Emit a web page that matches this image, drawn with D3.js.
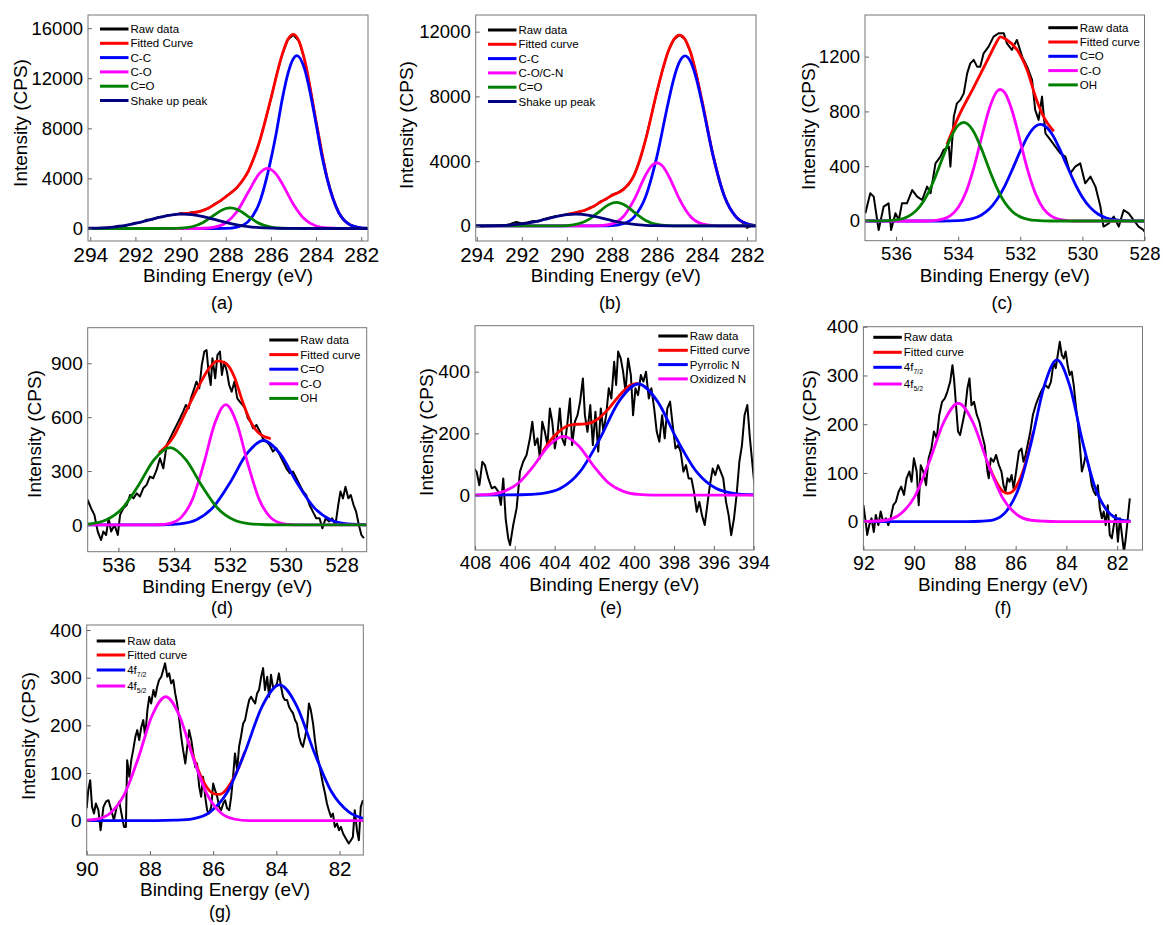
<!DOCTYPE html>
<html>
<head>
<meta charset="utf-8">
<script src="https://cdn.jsdelivr.net/npm/d3@7"></script>
<style>
body { margin: 0; background: #fff; }
svg { font-family: "Liberation Sans", Arial, Helvetica, sans-serif; }
</style>
</head>
<body>
<svg width="1163" height="925"></svg>
<script>
// ---- (a) C 1s ----
var aXTicks = [294, 292, 290, 288, 286, 284, 282];
var aYTicks = [0, 4000, 8000, 12000, 16000];
var aNames = ["Raw data", "Fitted Curve", "C-C", "C-O", "C=O", "Shake up peak"];
var aRaw = [[294,40],[293.75,-20],[293.5,10],[293.25,60],[293,90],[292.75,220],[292.5,180],[292.25,330],[292,460],[291.75,480],[291.5,700],[291.25,720],[291,900],[290.75,960],[290.5,1080],[290.25,1100],[290,1210],[289.75,1180],[289.5,1290],[289.25,1300],[289,1480],[288.75,1620],[288.5,1960],[288.25,2180],[288,2560],[287.75,2900],[287.5,3240],[287.25,3850],[287,4560],[286.75,5650],[286.5,6950],[286.25,8600],[286,10350],[285.75,12250],[285.5,13850],[285.25,15100],[285,15450],[284.75,14950],[284.5,13400],[284.25,11150],[284,8550],[283.75,6050],[283.5,3950],[283.25,2380],[283,1270],[282.75,660],[282.5,290],[282.25,150],[282,30],[281.75,60]];
var aFit = [[290,1174],[289.5,1245],[289,1445],[288.5,1908],[288,2530],[287.5,3281],[287,4582],[286.5,6969],[286,10378],[285.5,13905],[285.25,15092],[285,15499],[284.75,14937],[284.5,13412],[284,8558],[283.5,3942],[283,1288],[282.5,301],[282,50]];
var aCC = [[294.1,0],[288.5,0],[288,5],[287.5,106],[287,566],[286.5,2098],[286,5520],[285.75,7753],[285.5,10295],[285.25,12351],[285,13579],[284.85,13800],[284.5,12682],[284.25,10750],[284,8363],[283.75,5877],[283.5,3905],[283,1283],[282.5,301],[282,50],[281.7,0]];
var aCO = [[294.1,0],[289.5,0],[289,17],[288.5,105],[288,447],[287.5,1358],[287,2909],[286.5,4411],[286.15,4800],[285.75,4296],[285.5,3581],[285,1920],[284.5,730],[284,195],[283.5,37],[283,5],[282.5,0],[281.7,0]];
var aCdO = [[294.1,0],[291,0],[290.5,3],[290,26],[289.5,139],[289,481],[288.5,1084],[288.25,1388],[288,1594],[287.8,1650],[287.5,1528],[287.25,1274],[287,954],[286.5,388],[286,103],[285.5,18],[285,1],[284.5,0],[281.7,0]];
var aShake = [[294.1,15],[294,20],[293.5,51],[293,115],[292.5,227],[292,399],[291.5,622],[291,860],[290.5,1055],[290,1148],[289.9,1150],[289.5,1106],[289,947],[288.5,719],[288,484],[287.5,289],[287,153],[286.5,72],[286,30],[285.5,11],[285,3],[284.5,0],[281.7,0]];

// ---- (b) C 1s ----
var bXTicks = [294, 292, 290, 288, 286, 284, 282];
var bYTicks = [0, 4000, 8000, 12000];
var bNames = ["Raw data", "Fitted curve", "C-C", "C-O/C-N", "C=O", "Shake up peak"];
var bRaw = [[294,20],[293.75,-30],[293.5,40],[293.25,-10],[293,60],[292.75,30],[292.5,120],[292.25,250],[292,160],[291.75,210],[291.5,300],[291.25,280],[291,430],[290.75,520],[290.5,600],[290.25,640],[290,730],[289.75,760],[289.5,880],[289.25,930],[289,1120],[288.75,1230],[288.5,1520],[288.25,1650],[288,1930],[287.75,2050],[287.5,2280],[287.25,2560],[287,3200],[286.75,4080],[286.5,5350],[286.25,6800],[286,8280],[285.75,9650],[285.5,10790],[285.25,11500],[285,11800],[284.75,11530],[284.5,10700],[284.25,9400],[284,7730],[283.75,5980],[283.5,4300],[283.25,2880],[283,1830],[282.75,1050],[282.5,600],[282.25,280],[282,-120],[281.75,40],[281.6,20]];
var bFit = [[290,718],[289.5,850],[289,1076],[288.5,1474],[288,1885],[287.5,2238],[287,3166],[286.5,5343],[286,8300],[285.5,10780],[285.25,11519],[285,11792],[284.75,11522],[284.5,10702],[284,7740],[283.5,4313],[283,1817],[282.5,578],[282,138],[281.6,25]];
var bCC = [[294.05,0],[288.5,0],[288,25],[287.5,138],[287,578],[286.5,1817],[286,4295],[285.5,7613],[285.25,9104],[285,10133],[284.75,10500],[284.5,10133],[284.25,9104],[284,7613],[283.5,4295],[283,1817],[282.5,578],[282,138],[281.6,20]];
var bCO = [[294.05,0],[289,0],[288.5,18],[288,127],[287.5,569],[287,1658],[286.5,3147],[286.25,3697],[286,3900],[285.75,3697],[285.5,3147],[285.25,2410],[285,1658],[284.5,569],[284,127],[283.5,18],[283,0],[281.6,0]];
var bCdO = [[294.05,0],[291,0],[290.5,3],[290,23],[289.5,122],[289,423],[288.5,953],[288.25,1220],[288,1401],[287.8,1450],[287.5,1343],[287.25,1120],[287,839],[286.5,341],[286,91],[285.5,16],[285,1],[284.5,0],[281.6,0]];
var bShake = [[294.05,2],[293.5,7],[293,21],[292.5,55],[292,124],[291.5,240],[291,399],[290.5,569],[290,695],[289.6,730],[289,653],[288.5,503],[288,332],[287.5,188],[287,91],[286.5,38],[286,14],[285.5,4],[285,0],[281.6,0]];

// ---- (c) O 1s ----
var cXTicks = [536, 534, 532, 530, 528];
var cYTicks = [0, 400, 800, 1200];
var cNames = ["Raw data", "Fitted curve", "C=O", "C-O", "OH"];
var cRaw = [[536.99,56],[536.83,202],[536.72,178],[536.56,-66],[536.4,105],[536.24,129],[536.16,-66],[536.02,56],[535.91,7],[535.81,129],[535.65,129],[535.48,226],[535.32,178],[535.16,153],[535,251],[534.89,202],[534.73,421],[534.57,470],[534.47,519],[534.3,543],[534.25,397],[534.14,762],[534.04,859],[533.93,884],[533.82,932],[533.71,1078],[533.61,1151],[533.5,1176],[533.39,1127],[533.29,1127],[533.18,1224],[533.02,1273],[532.86,1346],[532.7,1370],[532.53,1370],[532.43,1297],[532.27,1249],[532.11,1322],[531.94,1200],[531.78,1127],[531.62,1030],[531.52,811],[531.41,738],[531.3,908],[531.19,640],[531.03,592],[530.87,543],[530.71,494],[530.55,470],[530.39,348],[530.23,397],[530.07,421],[529.91,275],[529.74,324],[529.58,251],[529.42,105],[529.32,-41],[529.15,-17],[528.99,32],[528.83,-41],[528.67,80],[528.51,56],[528.35,7],[528.19,-41],[528.03,-66],[528,-78]];
var cFit = [[534.36,560],[534,757],[533.5,976],[533,1200],[532.8,1290],[532.64,1345],[532.45,1325],[532.1,1249],[531.78,1103],[531.5,900],[531.25,762],[530.92,655]];
var cCdO = [[537,0],[534.5,0],[534,3],[533.75,8],[533.5,20],[533.25,44],[533,87],[532.75,157],[532.5,255],[532.25,379],[532,510],[531.75,623],[531.5,693],[531.35,705],[531.25,700],[531,642],[530.75,535],[530.5,405],[530.25,279],[530,174],[529.75,99],[529.5,51],[529.25,24],[529,10],[528.75,4],[528.5,1],[528,0]];
var cCO = [[537,0],[535,0],[534.75,4],[534.5,13],[534.25,39],[534,98],[533.75,210],[533.5,386],[533.25,607],[533,818],[532.75,946],[532.64,960],[532.5,937],[532.25,796],[532,580],[531.75,362],[531.5,194],[531.25,88],[531,35],[530.75,12],[530.5,3],[530.25,0],[528,0]];
var cOH = [[537,0],[536.5,1],[536,8],[535.75,20],[535.5,48],[535.25,101],[535,189],[534.75,314],[534.5,462],[534.25,603],[534,698],[533.82,720],[533.75,715],[533.5,652],[533.25,527],[533,377],[532.75,240],[532.5,135],[532.25,68],[532,30],[531.75,12],[531.5,4],[531,0],[528,0]];

// ---- (d) O 1s ----
var dXTicks = [536, 534, 532, 530, 528];
var dYTicks = [0, 300, 600, 900];
var dNames = ["Raw data", "Fitted curve", "C=O", "C-O", "OH"];
var dRaw = [[537.18,37],[537.1,139],[536.98,93],[536.86,56],[536.74,-37],[536.62,-84],[536.54,-37],[536.44,-56],[536.35,37],[536.26,-37],[536.14,0],[536.02,-56],[535.94,56],[535.82,93],[535.7,111],[535.58,167],[535.46,148],[535.34,176],[535.23,158],[535.11,204],[534.99,223],[534.87,269],[534.75,260],[534.63,306],[534.51,371],[534.39,315],[534.27,445],[534.15,482],[534.03,520],[533.91,557],[533.79,594],[533.68,631],[533.58,668],[533.48,649],[533.4,705],[533.28,761],[533.2,798],[533.1,761],[533.01,891],[532.92,965],[532.84,974],[532.77,854],[532.69,779],[532.63,928],[532.53,816],[532.45,946],[532.36,965],[532.29,835],[532.21,909],[532.11,854],[532.03,779],[531.94,742],[531.84,798],[531.74,705],[531.65,687],[531.55,668],[531.46,649],[531.36,594],[531.27,575],[531.17,538],[531.05,557],[530.93,520],[530.82,482],[530.7,464],[530.58,445],[530.46,408],[530.34,427],[530.22,390],[530.1,353],[529.98,315],[529.86,288],[529.74,297],[529.62,260],[529.5,223],[529.38,186],[529.27,167],[529.15,111],[529.03,74],[528.91,37],[528.79,37],[528.69,-19],[528.57,37],[528.45,19],[528.34,37],[528.22,0],[528.12,111],[528.04,186],[527.95,148],[527.86,213],[527.76,148],[527.67,167],[527.57,111],[527.48,74],[527.38,0],[527.29,-56],[527.2,-74]];
var dFit = [[534.55,400],[534.06,482],[533.58,631],[533.1,779],[532.75,872],[532.45,913],[532.15,900],[531.85,826],[531.55,687],[531.26,575],[530.96,510],[530.54,480]];
var dCdO = [[537.1,0],[535,0],[534.4,1],[533.8,6],[533.2,29],[532.6,99],[532,235],[531.4,395],[530.8,470],[530.2,395],[529.6,235],[529,99],[528.4,29],[527.8,6],[527.2,1],[527.1,0]];
var dCO = [[537.1,0],[535,0],[534.55,1],[534.15,9],[533.75,42],[533.35,141],[532.95,335],[532.55,563],[532.15,670],[531.75,563],[531.35,335],[530.95,141],[530.55,42],[530.15,9],[529.75,1],[529.35,0],[527.1,0]];
var dOH = [[537.1,5],[537.025,6],[536.45,27],[535.875,90],[535.3,215],[534.725,362],[534.15,430],[533.575,362],[533,215],[532.425,90],[531.85,27],[531.275,6],[530.7,1],[530,0],[527.1,0]];

// ---- (e) N 1s ----
var eXTicks = [408, 406, 404, 402, 400, 398, 396, 394];
var eYTicks = [0, 200, 400];
var eNames = ["Raw data", "Fitted curve", "Pyrrolic N", "Oxidized N"];
var eRaw = [[408.05,86],[407.92,76],[407.78,32],[407.63,108],[407.5,97],[407.33,54],[407.16,22],[407,27],[406.83,11],[406.7,-32],[406.58,54],[406.46,-76],[406.33,-141],[406.24,-162],[406.08,-97],[405.91,-43],[405.74,76],[405.58,108],[405.41,130],[405.24,184],[405.12,238],[404.99,162],[404.86,184],[404.74,119],[404.62,238],[404.49,205],[404.36,162],[404.24,281],[404.12,238],[403.99,151],[403.85,205],[403.74,281],[403.62,184],[403.49,162],[403.35,238],[403.23,313],[403.12,162],[402.98,238],[402.85,259],[402.72,303],[402.58,378],[402.48,259],[402.35,205],[402.21,292],[402.08,162],[401.95,270],[401.81,141],[401.68,281],[401.55,205],[401.41,259],[401.28,346],[401.15,313],[401.01,432],[400.91,357],[400.81,465],[400.68,443],[400.56,400],[400.44,335],[400.31,443],[400.17,389],[400.06,259],[399.94,346],[399.81,324],[399.67,389],[399.54,368],[399.41,400],[399.27,313],[399.14,346],[399,281],[398.87,205],[398.74,173],[398.6,259],[398.47,184],[398.34,281],[398.2,303],[398.07,227],[397.93,151],[397.8,162],[397.67,141],[397.53,76],[397.4,97],[397.27,54],[397.13,54],[397,11],[396.86,-54],[396.73,-22],[396.6,-65],[396.46,-97],[396.33,-32],[396.2,32],[396.06,86],[395.93,65],[395.79,97],[395.66,76],[395.53,54],[395.39,-22],[395.26,-65],[395.13,-130],[394.99,-76],[394.86,0],[394.72,108],[394.59,162],[394.46,259],[394.32,292],[394.19,184],[394.06,97],[393.96,32]];
var eFit = [[404.6,140],[404.2,178],[403.8,205],[403.4,223],[403,229],[402.6,230],[402.2,234],[401.8,248],[401.4,272],[401,303],[400.6,333],[400.2,356],[399.8,362]];
var ePyr = [[408,0],[405.65,1],[404.675,5],[403.7,22],[402.725,76],[401.75,180],[400.775,303],[399.8,360],[398.825,303],[397.85,180],[396.875,76],[395.9,22],[394.925,5],[394,1]];
var eOxi = [[408,0],[407.3,2],[406.55,12],[405.8,40],[405.05,95],[404.3,160],[403.55,190],[402.8,160],[402.05,95],[401.3,40],[400.55,12],[399.8,2],[399.05,0],[394,0]];

// ---- (f) 4f ----
var fXTicks = [92, 90, 88, 86, 84, 82];
var fYTicks = [0, 100, 200, 300, 400];
var fNames = ["Raw data", "Fitted curve", "4f_7/2", "4f_5/2"];
var fRaw = [[92,34],[91.91,0],[91.85,-27],[91.77,-7],[91.68,7],[91.59,-21],[91.51,14],[91.41,-7],[91.32,21],[91.22,0],[91.11,7],[91.02,-7],[90.93,7],[90.82,34],[90.72,41],[90.61,62],[90.51,72],[90.4,55],[90.3,89],[90.19,103],[90.1,82],[90.01,130],[89.9,103],[89.82,34],[89.74,116],[89.64,103],[89.53,75],[89.43,130],[89.32,150],[89.22,185],[89.11,171],[89.01,219],[88.9,246],[88.79,253],[88.69,267],[88.58,287],[88.49,321],[88.43,294],[88.35,239],[88.27,185],[88.19,178],[88.11,198],[88,226],[87.9,274],[87.82,294],[87.74,239],[87.64,246],[87.53,219],[87.43,205],[87.32,178],[87.22,157],[87.11,103],[87.06,89],[86.98,130],[86.87,123],[86.77,137],[86.66,116],[86.56,103],[86.48,75],[86.4,62],[86.32,89],[86.24,82],[86.16,96],[86.08,68],[85.98,103],[85.87,144],[85.77,150],[85.69,123],[85.61,137],[85.53,157],[85.42,185],[85.32,219],[85.21,239],[85.11,253],[85,267],[84.92,274],[84.82,280],[84.71,274],[84.61,287],[84.5,328],[84.42,315],[84.34,342],[84.26,369],[84.18,342],[84.1,335],[84.03,349],[83.95,321],[83.87,301],[83.79,308],[83.71,280],[83.63,239],[83.55,205],[83.47,157],[83.39,103],[83.32,116],[83.24,137],[83.16,123],[83.08,103],[83,75],[82.92,62],[82.84,55],[82.76,75],[82.68,27],[82.6,7],[82.53,21],[82.45,-7],[82.37,34],[82.29,-27],[82.21,-34],[82.13,-7],[82.05,14],[81.97,-41],[81.89,7],[81.81,-27],[81.73,-62],[81.66,-34],[81.58,7],[81.5,48]];
var fFit = [[87.1,122],[86.9,96],[86.7,76],[86.5,62],[86.3,58],[86.1,63],[85.9,79],[85.7,105],[85.5,142],[85.3,185]];
var f72 = [[92,0],[87.9,0],[87.37,1],[86.87,4],[86.37,21],[85.87,70],[85.37,166],[84.87,279],[84.37,332],[83.87,279],[83.37,166],[82.87,70],[82.37,21],[81.87,4],[81.47,1]];
var f52 = [[92,0],[91.71,1],[91.135,3],[90.56,15],[89.985,51],[89.41,122],[88.835,204],[88.26,243],[87.685,204],[87.11,122],[86.535,51],[85.96,15],[85.385,3],[84.81,1],[84.2,0],[81.47,0]];

// ---- (g) 4f ----
var gXTicks = [90, 88, 86, 84, 82];
var gYTicks = [0, 100, 200, 300, 400];
var gNames = ["Raw data", "Fitted curve", "4f_7/2", "4f_5/2"];
var gRaw = [[90,26],[89.95,64],[89.89,85],[89.83,29],[89.77,15],[89.71,36],[89.63,22],[89.56,-20],[89.47,29],[89.39,40],[89.31,43],[89.22,22],[89.14,1],[89.05,29],[88.97,40],[88.88,8],[88.82,-13],[88.76,-13],[88.72,127],[88.65,92],[88.59,127],[88.53,148],[88.46,176],[88.4,190],[88.34,169],[88.27,197],[88.21,211],[88.15,176],[88.08,232],[88.02,260],[87.96,246],[87.89,274],[87.83,260],[87.77,281],[87.71,295],[87.64,302],[87.58,316],[87.52,330],[87.45,302],[87.39,309],[87.33,288],[87.26,295],[87.2,267],[87.14,246],[87.07,211],[87.01,176],[86.95,148],[86.88,120],[86.82,155],[86.76,190],[86.69,169],[86.63,141],[86.57,113],[86.51,120],[86.44,71],[86.38,50],[86.32,92],[86.25,50],[86.19,22],[86.13,15],[86.06,29],[86,78],[85.94,64],[85.87,50],[85.81,29],[85.75,22],[85.68,36],[85.62,43],[85.56,26],[85.49,22],[85.43,50],[85.37,92],[85.31,141],[85.24,106],[85.18,155],[85.12,176],[85.05,204],[84.99,211],[84.93,232],[84.86,253],[84.8,260],[84.74,253],[84.67,246],[84.61,267],[84.55,274],[84.48,302],[84.42,320],[84.36,274],[84.29,302],[84.23,260],[84.17,306],[84.11,281],[84.04,281],[83.98,288],[83.92,309],[83.85,281],[83.79,260],[83.73,253],[83.66,253],[83.6,239],[83.54,232],[83.47,225],[83.41,211],[83.35,204],[83.28,176],[83.22,162],[83.16,155],[83.09,176],[83.03,197],[82.97,246],[82.91,232],[82.84,204],[82.78,169],[82.72,141],[82.65,120],[82.59,99],[82.53,78],[82.46,57],[82.4,36],[82.34,22],[82.27,8],[82.21,15],[82.15,-13],[82.08,-6],[82.02,-20],[81.96,-13],[81.89,-27],[81.83,-34],[81.77,-41],[81.71,-48],[81.64,-41],[81.58,-34],[81.52,22],[81.45,-20],[81.39,-41],[81.33,29],[81.26,43]];
var gFit = [[86.8,169],[86.6,129],[86.4,95],[86.2,70],[86,57],[85.8,55],[85.6,64],[85.4,84],[85.2,110],[85,144]];
var g72 = [[90,0],[87.8,0],[87.2,1],[86.65,4],[86.1,18],[85.55,60],[85,143],[84.45,240],[83.9,285],[83.35,240],[82.8,143],[82.25,60],[81.7,18],[81.25,5]];
var g52 = [[90,1],[89.69,3],[89.25,16],[88.81,55],[88.375,130],[87.94,219],[87.5,260],[87.06,219],[86.625,130],[86.19,55],[85.75,16],[85.31,3],[84.875,0],[81.25,0]];

var BLACK = "#000000", RED = "#ff0000", BLUE = "#0000ff", PINK = "#ff00ff", GREEN = "#008000", NAVY = "#000080";

function rows(y0, step, n) {
    var r = [];
    for (var i = 0; i < n; i++) r.push(y0 + i * step);
    return r;
}

var panels = [
    { id: "a", left: 88, right: 368, top: 15, bottom: 241, xDom: [294.1, 281.7], yDom: [-1000, 17050],
      xTicks: aXTicks, yTicks: aYTicks, xFont: 21, yFont: 18.5, yTitle: [26.5, 123], label: [222, 309],
      names: aNames, data: [aRaw, aFit, aCC, aCO, aCdO, aShake], colors: [BLACK, RED, BLUE, PINK, GREEN, NAVY],
      legend: { x: 100, len: 28.5, rows: rows(29, 14.3, 6) } },
    { id: "b", left: 475.7, right: 756, top: 15, bottom: 241, xDom: [294.05, 281.6], yDom: [-930, 13030],
      xTicks: bXTicks, yTicks: bYTicks, xFont: 20.5, yFont: 18.5, yTitle: [413, 125], label: [610, 309],
      names: bNames, data: [bRaw, bFit, bCC, bCO, bCdO, bShake], colors: [BLACK, RED, BLUE, PINK, GREEN, NAVY],
      legend: { x: 488, len: 28.5, rows: rows(30, 14.3, 6) } },
    { id: "c", left: 865, right: 1144.5, top: 15, bottom: 240.7, xDom: [537, 528], yDom: [-144, 1504],
      xTicks: cXTicks, yTicks: cYTicks, xFont: 18.5, yFont: 18.5, yTitle: [815, 126], label: [1002, 309],
      names: cNames, data: [cRaw, cFit, cCdO, cCO, cOH], colors: [BLACK, RED, BLUE, PINK, GREEN],
      legend: { x: 1048.3, len: 29.5, rows: rows(27.7, 14.3, 5) } },
    { id: "d", left: 87.7, right: 366.7, top: 327.7, bottom: 551.7, xDom: [537.1, 527.1], yDom: [-149, 1098],
      xTicks: dXTicks, yTicks: dYTicks, xFont: 20, yFont: 19, yTitle: [40.5, 434], label: [222, 614],
      names: dNames, data: [dRaw, dFit, dCdO, dCO, dOH], colors: [BLACK, RED, BLUE, PINK, GREEN],
      legend: { x: 269.3, len: 29, rows: rows(340, 14.6, 5) } },
    { id: "e", left: 475, right: 753.7, top: 325.7, bottom: 550, xDom: [408, 394], yDom: [-178, 549],
      xTicks: eXTicks, yTicks: eYTicks, xFont: 19, yFont: 19, yTitle: [432.5, 432], label: [611, 614],
      names: eNames, data: [eRaw, eFit, ePyr, eOxi], colors: [BLACK, RED, BLUE, PINK],
      legend: { x: 658.3, len: 29.5, rows: rows(336, 14.3, 4) } },
    { id: "f", left: 863.4, right: 1142.5, top: 326.7, bottom: 550, xDom: [92, 81], yDom: [-58, 400],
      xTicks: fXTicks, yTicks: fYTicks, xFont: 19.5, yFont: 19, yTitle: [815.5, 434], label: [1003, 614],
      names: fNames, data: [fRaw, fFit, f72, f52], colors: [BLACK, RED, BLUE, PINK],
      legend: { x: 873.3, len: 28.5, rows: [337.3, 352.3, 367.3, 384] } },
    { id: "g", left: 86.7, right: 363.3, top: 625, bottom: 855, xDom: [90, 81.25], yDom: [-72, 410.5],
      xTicks: gXTicks, yTicks: gYTicks, xFont: 20.5, yFont: 19, yTitle: [34.5, 736], label: [220, 918],
      names: gNames, data: [gRaw, gFit, g72, g52], colors: [BLACK, RED, BLUE, PINK],
      legend: { x: 96.7, len: 28.5, rows: [641, 655, 670, 686] } }
];

var svg = d3.select("svg");

function drawPanel(p) {
    var x = d3.scaleLinear().domain(p.xDom).range([p.left, p.right]);
    var y = d3.scaleLinear().domain(p.yDom).range([p.bottom, p.top]);

    svg.append("clipPath").attr("id", "clip" + p.id)
        .append("rect")
        .attr("x", p.left).attr("y", p.top)
        .attr("width", p.right - p.left).attr("height", p.bottom - p.top);

    var plot = svg.append("g").attr("clip-path", "url(#clip" + p.id + ")");

    p.data.forEach(function (d, i) {
        var line = d3.line()
            .x(function (v) { return x(v[0]); })
            .y(function (v) { return y(v[1]); })
            .curve(i == 0 ? d3.curveLinear : d3.curveMonotoneX);
        plot.append("path")
            .datum(d)
            .attr("fill", "none")
            .attr("stroke", p.colors[i])
            .attr("stroke-width", i == 0 ? 2 : 2.8)
            .attr("stroke-linejoin", "round")
            .attr("d", line);
    });

    // frame
    svg.append("rect")
        .attr("x", p.left).attr("y", p.top)
        .attr("width", p.right - p.left).attr("height", p.bottom - p.top)
        .attr("fill", "none").attr("stroke", "#777").attr("stroke-width", 1);

    var xa = svg.append("g")
        .attr("transform", "translate(0," + p.bottom + ")")
        .call(d3.axisBottom(x).tickValues(p.xTicks).tickSizeInner(-4).tickSizeOuter(0)
            .tickPadding(6).tickFormat(d3.format("d")))
        .attr("font-family", null).attr("font-size", p.xFont);
    xa.select(".domain").remove();
    xa.selectAll("line").attr("stroke", "#666");
    xa.selectAll("text").attr("fill", "#000");

    var ya = svg.append("g")
        .attr("transform", "translate(" + p.left + ",0)")
        .call(d3.axisLeft(y).tickValues(p.yTicks).tickSizeInner(-4).tickSizeOuter(0)
            .tickPadding(5).tickFormat(d3.format("d")))
        .attr("font-family", null).attr("font-size", p.yFont);
    ya.select(".domain").remove();
    ya.selectAll("line").attr("stroke", "#666");
    ya.selectAll("text").attr("fill", "#000");

    svg.append("text")
        .attr("x", (p.left + p.right) / 2)
        .attr("y", p.bottom + 41)
        .attr("text-anchor", "middle")
        .attr("font-size", 19)
        .text("Binding Energy (eV)");

    svg.append("text")
        .attr("transform", "translate(" + p.yTitle[0] + "," + p.yTitle[1] + ") rotate(-90)")
        .attr("text-anchor", "middle")
        .attr("font-size", 19)
        .text("Intensity (CPS)");

    svg.append("text")
        .attr("x", p.label[0]).attr("y", p.label[1])
        .attr("text-anchor", "middle")
        .attr("font-size", 18)
        .text("(" + p.id + ")");

    // legend
    var lg = svg.append("g");
    p.names.forEach(function (name, i) {
        var ly = p.legend.rows[i];
        lg.append("line")
            .attr("x1", p.legend.x).attr("x2", p.legend.x + p.legend.len)
            .attr("y1", ly).attr("y2", ly)
            .attr("stroke", p.colors[i]).attr("stroke-width", 3);
        var t = lg.append("text")
            .attr("x", p.legend.x + p.legend.len + 2)
            .attr("y", ly + 4)
            .attr("font-size", 11.5);
        var parts = name.split("_");
        t.append("tspan").text(parts[0]);
        if (parts[1]) {
            t.append("tspan").attr("font-size", 7).attr("dy", 3).text(parts[1]);
        }
    });
}

panels.forEach(drawPanel);
</script>
</body>
</html>
